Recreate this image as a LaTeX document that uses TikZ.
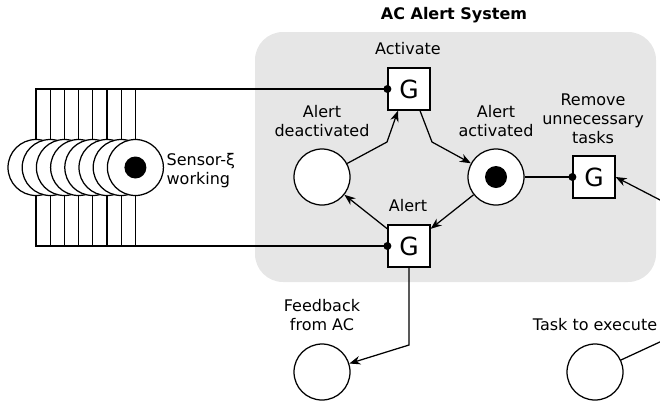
\documentclass[tikz,border=0pt]{standalone}
\usepackage{fontspec}
\setmainfont{DejaVu Sans}
\usetikzlibrary{arrows.meta}
\definecolor{panelgray}{RGB}{230,230,230}
\begin{document}
\begin{tikzpicture}[x=1pt,y=-1pt,
  line width=1.25pt,
  place/.style={circle,draw,fill=white,minimum size=56pt,inner sep=0pt},
  token/.style={circle,fill=black,minimum size=22pt,inner sep=0pt},
  trans/.style={rectangle,draw,fill=white,minimum size=42pt,inner sep=0pt,font=\fontsize{25}{25}\selectfont},
  lbl/.style={font=\fontsize{16}{19}\selectfont,align=center,inner sep=0pt,anchor=south},
  arr/.style={-{Stealth[length=11pt,width=8.5pt]}},
  dot/.style={fill=black},
  ]
\useasboundingbox (0,0) rectangle (660,408);
% panel
\fill[panelgray,rounded corners=28pt] (255,32) rectangle (656,282);
\node[font=\fontsize{16}{19}\selectfont\bfseries,anchor=base,inner sep=0pt] (title) at (454,19) {AC Alert System};
% transitions
\node[trans] (act) at (409,89) {G};
\node[trans] (alert) at (409,246) {G};
\node[trans] (rm) at (594,177) {G};
% places
\node[place] (deact) at (322,177) {};
\node[place] (actd) at (496,177) {};
\node[token] (tk) at (actd) {};
\node[place] (fb) at (322,372) {};
\node[place] (task) at (595,372) {};
% sensor places
\foreach \i in {1,...,8} {
  \pgfmathsetmacro{\xx}{36+(\i-1)*14.2}
  \node[place] (s\i) at (\xx,167.5) {};
}
\node[token] (stk) at (s8) {};
% labels
\node[lbl] (lact) at (408,55.5) {Activate};
\node[lbl] (lalert) at (408,212.5) {Alert};
\node[lbl] (ldeact) at (322,137) {Alert\\deactivated};
\node[lbl] (lactd) at (496,137) {Alert\\activated};
\node[lbl] (lrm) at (593,144.5) {Remove\\unnecessary\\tasks};
\node[lbl] (lfb) at (322,331) {Feedback\\from AC};
\node[lbl] (ltask) at (595,331) {Task to execute};
\node[lbl,align=left,anchor=south west] (lsens) at (166,188) {Sensor-ξ\\working};
% sensor arcs
\foreach \i in {1,...,8} {
  \draw (s\i.north) |- (act.west);
  \draw (s\i.south) |- (alert.west);
}
\fill[dot] (act.west) circle[radius=4pt];
\fill[dot] (alert.west) circle[radius=4pt];
% bends
\coordinate (b1) at (387,142);
\coordinate (b2) at (432,142);
\coordinate (b3) at (409,345);
\coordinate (rin) at (662,201);
\coordinate (tout) at (662,341);
% arcs
\draw[arr] (deact) -- (b1) -- ([xshift=-11pt]act.south);
\draw[arr] ([xshift=11pt]act.south) -- (b2) -- (actd);
\draw[arr] (actd) -- (alert);
\draw[arr] (alert) -- (deact);
\draw[arr] (alert.south) -- (b3) -- (fb);
\draw (actd) -- (rm.west);
\fill[dot] (rm.west) circle[radius=4pt];
\draw[arr] (rin) -- (rm.east);
\draw (task) -- (tout);
\end{tikzpicture}
\end{document}
